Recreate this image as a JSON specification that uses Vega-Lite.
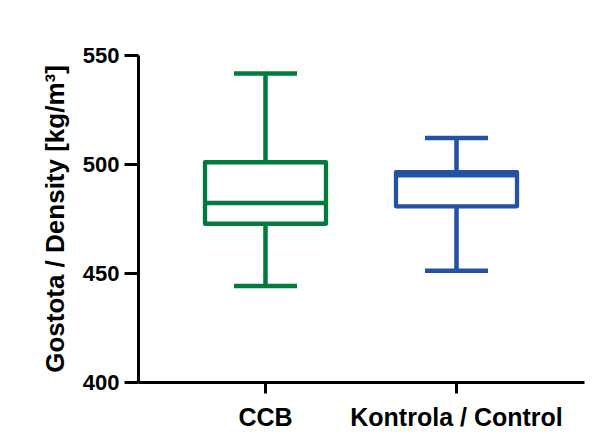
{
  "$schema": "https://vega.github.io/schema/vega-lite/v6.json",
  "autosize": {"type": "none"},
  "padding": {"left": 138, "top": 55, "right": 22, "bottom": 65},
  "width": 446,
  "height": 327,
  "background": "white",
  "config": {"view": {"stroke": null}, "font": "Liberation Sans"},
  "data": {
    "values": [
      {"group": "CCB", "min": 444, "q1": 472.6, "median": 482.1, "q3": 500.8, "max": 541.5},
      {"group": "Kontrola / Control", "min": 451, "q1": 480.6, "median": 494.8, "q3": 496.3, "max": 511.9}
    ]
  },
  "encoding": {
    "x": {
      "field": "group",
      "type": "nominal",
      "sort": null,
      "scale": {"paddingInner": 0.35, "paddingOuter": 0.3425},
      "axis": {
        "title": null,
        "labelAngle": 0,
        "labelLimit": 0,
        "labelFont": "Liberation Sans",
        "labelFontSize": 25,
        "labelFontWeight": "bold",
        "labelColor": "black",
        "labelPadding": 12,
        "tickSize": 11,
        "tickWidth": 3,
        "tickColor": "black",
        "domainColor": "black",
        "domainWidth": 3
      }
    }
  },
  "layer": [
    {
      "mark": {"type": "rule", "strokeWidth": 4.5},
      "encoding": {
        "y": {
          "field": "min",
          "type": "quantitative",
          "scale": {"domain": [400, 550], "nice": false, "zero": false},
          "axis": {
            "values": [400, 450, 500, 550],
            "title": "Gostota / Density [kg/m³]",
            "titleFont": "Liberation Sans",
            "titleFontSize": 26,
            "titleFontWeight": "bold",
            "titleColor": "black",
            "titlePadding": 14,
            "labelFont": "Liberation Sans",
            "labelFontSize": 22,
            "labelFontWeight": "bold",
            "labelColor": "black",
            "labelPadding": 5,
            "tickSize": 14,
            "tickWidth": 3,
            "tickColor": "black",
            "domainColor": "black",
            "domainWidth": 3,
            "grid": false
          }
        },
        "y2": {"field": "max"},
        "color": {"field": "group", "type": "nominal", "scale": {"domain": ["CCB", "Kontrola / Control"], "range": ["#007A3D", "#2451A4"]}, "legend": null}
      }
    },
    {
      "mark": {"type": "bar", "size": 121, "fill": "white", "strokeWidth": 4.3, "strokeJoin": "round"},
      "encoding": {
        "y": {"field": "q1", "type": "quantitative"},
        "y2": {"field": "q3"},
        "stroke": {"field": "group", "type": "nominal", "scale": {"domain": ["CCB", "Kontrola / Control"], "range": ["#007A3D", "#2451A4"]}, "legend": null}
      }
    },
    {
      "mark": {"type": "tick", "size": 123, "thickness": 4.3, "opacity": 1},
      "encoding": {
        "y": {"field": "median", "type": "quantitative"},
        "color": {"field": "group", "type": "nominal", "scale": {"domain": ["CCB", "Kontrola / Control"], "range": ["#007A3D", "#2451A4"]}, "legend": null}
      }
    },
    {
      "mark": {"type": "tick", "size": 63, "thickness": 4.5, "opacity": 1},
      "encoding": {
        "y": {"field": "min", "type": "quantitative"},
        "color": {"field": "group", "type": "nominal", "scale": {"domain": ["CCB", "Kontrola / Control"], "range": ["#007A3D", "#2451A4"]}, "legend": null}
      }
    },
    {
      "mark": {"type": "tick", "size": 63, "thickness": 4.5, "opacity": 1},
      "encoding": {
        "y": {"field": "max", "type": "quantitative"},
        "color": {"field": "group", "type": "nominal", "scale": {"domain": ["CCB", "Kontrola / Control"], "range": ["#007A3D", "#2451A4"]}, "legend": null}
      }
    }
  ]
}
